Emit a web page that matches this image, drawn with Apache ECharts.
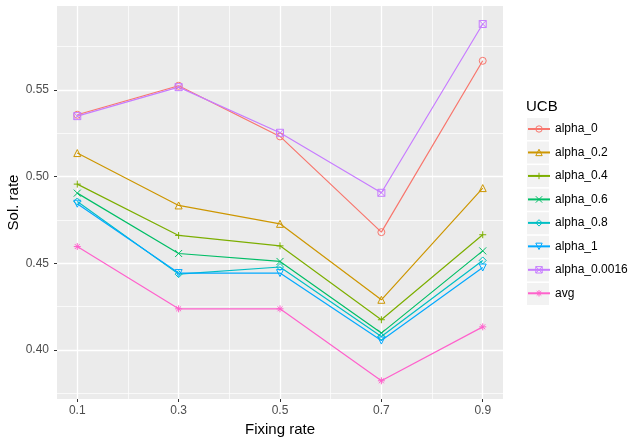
<!DOCTYPE html>
<html><head><meta charset="utf-8">
<script src="https://cdn.jsdelivr.net/npm/echarts@6/dist/echarts.min.js"></script>
<style>html,body{margin:0;padding:0;background:#fff}#c{width:630px;height:437px}</style>
</head><body><div id="c"></div>
<script>
// ---- data ----
const fixingRates = [0.1, 0.3, 0.5, 0.7, 0.9];
const seriesNames = ['alpha_0', 'alpha_0.2', 'alpha_0.4', 'alpha_0.6', 'alpha_0.8', 'alpha_1', 'alpha_0.0016', 'avg'];
const alpha_0      = [0.5356, 0.5523, 0.5231, 0.4679, 0.5667];
const alpha_0_2    = [0.5135, 0.4833, 0.4727, 0.4289, 0.4933];
const alpha_0_4    = [0.4956, 0.4660, 0.4600, 0.4174, 0.4664];
const alpha_0_6    = [0.4904, 0.4556, 0.4510, 0.4097, 0.4571];
const alpha_0_8    = [0.4856, 0.4437, 0.4478, 0.4077, 0.4516];
const alpha_1      = [0.4843, 0.4443, 0.4443, 0.4054, 0.4475];
const alpha_0_0016 = [0.5348, 0.5515, 0.5252, 0.4906, 0.5879];
const avg          = [0.4596, 0.4237, 0.4237, 0.3822, 0.4133];
const xTicks = [0.1, 0.3, 0.5, 0.7, 0.9];
const xMinor = [0.2, 0.4, 0.6, 0.8];
const yTicks = [0.40, 0.45, 0.50, 0.55];
const yMinor = [0.375, 0.425, 0.475, 0.525, 0.575];

// ---- styling ----
const colors = ['#F8766D', '#CD9600', '#7CAE00', '#00BE67', '#00BFC4', '#00A9FF', '#C77CFF', '#FF61CC'];
const shapes = [
  'path://M5,0 A5,5 0 1,1 5,10 A5,5 0 1,1 5,0 Z',
  'path://M5,0 L10,8.66 L0,8.66 Z',
  'path://M5,0 L5,10 M0,5 L10,5',
  'path://M0,0 L10,10 M10,0 L0,10',
  'path://M5,0 L10,5 L5,10 L0,5 Z',
  'path://M0,0 L10,0 L5,8.66 Z',
  'path://M0,0 L10,0 L10,10 L0,10 Z M0,0 L10,10 M10,0 L0,10',
  'path://M5,0 L5,10 M0,5 L10,5 M1.5,1.5 L8.5,8.5 M8.5,1.5 L1.5,8.5'
];
const seriesValues = [alpha_0, alpha_0_2, alpha_0_4, alpha_0_6, alpha_0_8, alpha_1, alpha_0_0016, avg];

const xMin = 0.06, xMax = 0.94, yMin = 0.3717, yMax = 0.5983;
const legendLeft = 527, legendTop = 118, rowStep = 23.57;

const chart = echarts.init(document.getElementById('c'), null, {renderer: 'canvas'});

const series = seriesNames.map((n, i) => ({
  name: n, type: 'line', xAxisIndex: 0, yAxisIndex: 0,
  data: fixingRates.map((x, j) => [x, seriesValues[i][j]]),
  symbol: shapes[i], symbolSize: 7,
  itemStyle: {color: 'rgba(0,0,0,0)', borderColor: colors[i], borderWidth: 1},
  lineStyle: {color: colors[i], width: 1.2},
  emphasis: {disabled: true},
  animation: false
}));

const keyRects = seriesNames.map((n, i) => ({
  type: 'rect', left: legendLeft, top: legendTop + i * rowStep,
  shape: {width: 22, height: 22}, style: {fill: '#F2F2F2'}, z: -1
}));

chart.setOption({
  backgroundColor: '#fff',
  animation: false,
  textStyle: {fontFamily: 'Liberation Sans, Arial, sans-serif'},
  title: {text: 'UCB', left: legendLeft - 1, top: 99, padding: 0,
          textStyle: {fontSize: 15, fontWeight: 'normal', color: '#000'}},
  grid: {left: 57, right: 127, top: 6, bottom: 38, show: true, backgroundColor: '#EBEBEB', borderWidth: 0,
         containLabel: false, outerBoundsMode: 'none'},
  legend: {
    orient: 'vertical', left: legendLeft, top: legendTop + 5, padding: 0,
    itemWidth: 22, itemHeight: 8, itemGap: 11.47,
    data: seriesNames,
    itemStyle: {color: 'rgba(0,0,0,0)', borderWidth: 1},
    textStyle: {fontSize: 12, color: '#000'}
  },
  graphic: keyRects,
  xAxis: [
    {type: 'value', min: xMin, max: xMax,
     axisLine: {show: false},
     axisTick: {show: true, customValues: xTicks, length: 3, lineStyle: {color: '#333'}},
     axisLabel: {customValues: xTicks, color: '#4D4D4D', fontSize: 12, margin: 6, formatter: v => v.toFixed(1)},
     splitLine: {show: true, lineStyle: {color: '#fff', width: 1.3}},
     name: 'Fixing rate', nameLocation: 'middle', nameGap: 22,
     nameTextStyle: {color: '#000', fontSize: 15}},
    {type: 'value', min: xMin, max: xMax, position: 'bottom',
     axisLine: {show: false},
     axisTick: {show: false, customValues: xMinor},
     axisLabel: {show: false, customValues: xMinor},
     splitLine: {show: true, lineStyle: {color: '#fff', width: 0.7}}}
  ],
  yAxis: [
    {type: 'value', min: yMin, max: yMax,
     axisLine: {show: false},
     axisTick: {show: true, customValues: yTicks, length: 3, lineStyle: {color: '#333'}},
     axisLabel: {customValues: yTicks, color: '#4D4D4D', fontSize: 12, margin: 8, formatter: v => v.toFixed(2)},
     splitLine: {show: true, lineStyle: {color: '#fff', width: 1.3}},
     name: 'Sol. rate', nameLocation: 'middle', nameGap: 36, nameMoveOverlap: false,
     nameTextStyle: {color: '#000', fontSize: 15}},
    {type: 'value', min: yMin, max: yMax,
     axisLine: {show: false},
     axisTick: {show: false, customValues: yMinor},
     axisLabel: {show: false, customValues: yMinor},
     splitLine: {show: true, lineStyle: {color: '#fff', width: 0.7}}}
  ],
  series: series
});
</script></body></html>
